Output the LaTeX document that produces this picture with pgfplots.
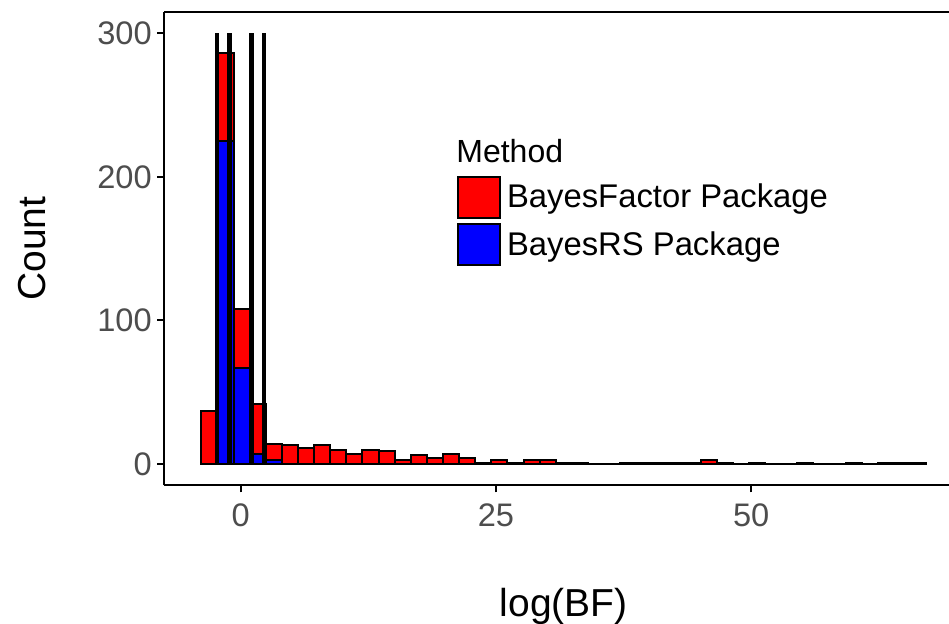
\documentclass[border=0pt]{standalone}
\usepackage{pgfplots}
\pgfplotsset{compat=1.18}
\usepackage{fontspec}
\setmainfont{Liberation Sans}
\definecolor{tickgray}{HTML}{4D4D4D}
\definecolor{bfred}{HTML}{FF0000}
\definecolor{rsblue}{HTML}{0000FF}
\begin{document}
\begin{tikzpicture}
\begin{axis}[
  scale only axis,
  width=392.35pt, height=236.9pt,
  xmin=-7.48, xmax=69.37, ymin=-15, ymax=315,
  axis x line*=box, axis y line*=left,
  axis line style={line width=1pt, -, black},
  xtick={0,25,50}, ytick={0,100,200,300},
  xtick pos=lower, ytick pos=left,
  tick align=outside,
  major tick length=3.5pt,
  tick style={line width=1pt, black},
  ticklabel style={font=\fontsize{16.3}{19}\selectfont, text=tickgray},
  /pgf/number format/assume math mode=true,
  xticklabel style={anchor=north, inner sep=0pt, yshift=-5.2pt},
  yticklabel style={anchor=east, inner sep=0pt, xshift=-2.6pt},
  xlabel={log(BF)}, ylabel={Count},
  label style={font=\fontsize{19.5}{23}\selectfont},
  xlabel style={at={(axis description cs:0.509,-0.2775)}, anchor=base},
  ylabel style={at={(axis description cs:-0.152,0.5)}, anchor=base},
  legend style={at={(axis description cs:0.3726,0.6539)}, anchor=north west,
    draw=none, fill=none, inner sep=0pt, outer sep=0pt, row sep=1.8pt,
    font=\fontsize{16.4}{19}\selectfont,
    nodes={inner sep=0pt},
    /tikz/every odd column/.append style={column sep=2.9pt}},
  legend cell align=left,
  clip=false,
]
\addplot[ybar, bar width=1.577, bar shift=0pt, fill=bfred, draw=black, line width=1pt,
  legend image code/.code={\draw[fill=bfred, draw=black, line width=1pt] (0pt,-10.4pt) rectangle (21.3pt,10.4pt);}]
coordinates {
(-3.0515,37) (-1.4745,286) (0.1025,108) (1.6795,42) (3.2565,14) (4.8335,13)
(6.4105,11) (7.9875,13) (9.5645,10) (11.1415,7) (12.7185,10) (14.2955,9)
(15.8725,3) (17.4495,6) (19.0265,4) (20.6035,7) (22.1805,4) (23.7575,1)
(25.3345,3) (26.9115,1) (28.4885,3) (30.0655,3) (31.6425,1) (33.2195,1)
(34.7965,0) (36.3735,0) (37.9505,1) (39.5275,1) (41.1045,1) (42.6815,1)
(44.2585,1) (45.8355,3) (47.4125,1) (48.9895,0) (50.5665,1) (52.1435,0)
(53.7205,0) (55.2975,1) (56.8745,0) (58.4515,0) (60.0285,1) (61.6055,0)
(63.1825,1) (64.7595,1) (66.3365,1)
};
\addlegendentry{BayesFactor Package}
\addplot[ybar, bar width=1.577, bar shift=0pt, fill=rsblue, draw=black, line width=1pt,
  legend image code/.code={\draw[fill=rsblue, draw=black, line width=1pt] (0pt,-10.4pt) rectangle (21.3pt,10.4pt);}]
coordinates {(-1.4745,225) (0.1025,67) (1.6795,7) (3.2565,3)};
\addlegendentry{BayesRS Package}
\addplot[black, line width=1.7pt, forget plot] coordinates {(-2.3026,0) (-2.3026,300)};
\addplot[black, line width=2.5pt, forget plot] coordinates {(-1.0986,0) (-1.0986,300)};
\addplot[black, line width=2.5pt, forget plot] coordinates {(1.0986,0) (1.0986,300)};
\addplot[black, line width=1.7pt, forget plot] coordinates {(2.3026,0) (2.3026,300)};
\node[anchor=base west, inner sep=0pt, font=\fontsize{16}{19}\selectfont] at (axis description cs:0.3717,0.6807) {Method};
\end{axis}
\pgfresetboundingbox
\path[use as bounding box] ([xshift=-82.15pt,yshift=-69.25pt]current axis.south west) rectangle ([yshift=5.85pt]current axis.north east);
\end{tikzpicture}
\end{document}
